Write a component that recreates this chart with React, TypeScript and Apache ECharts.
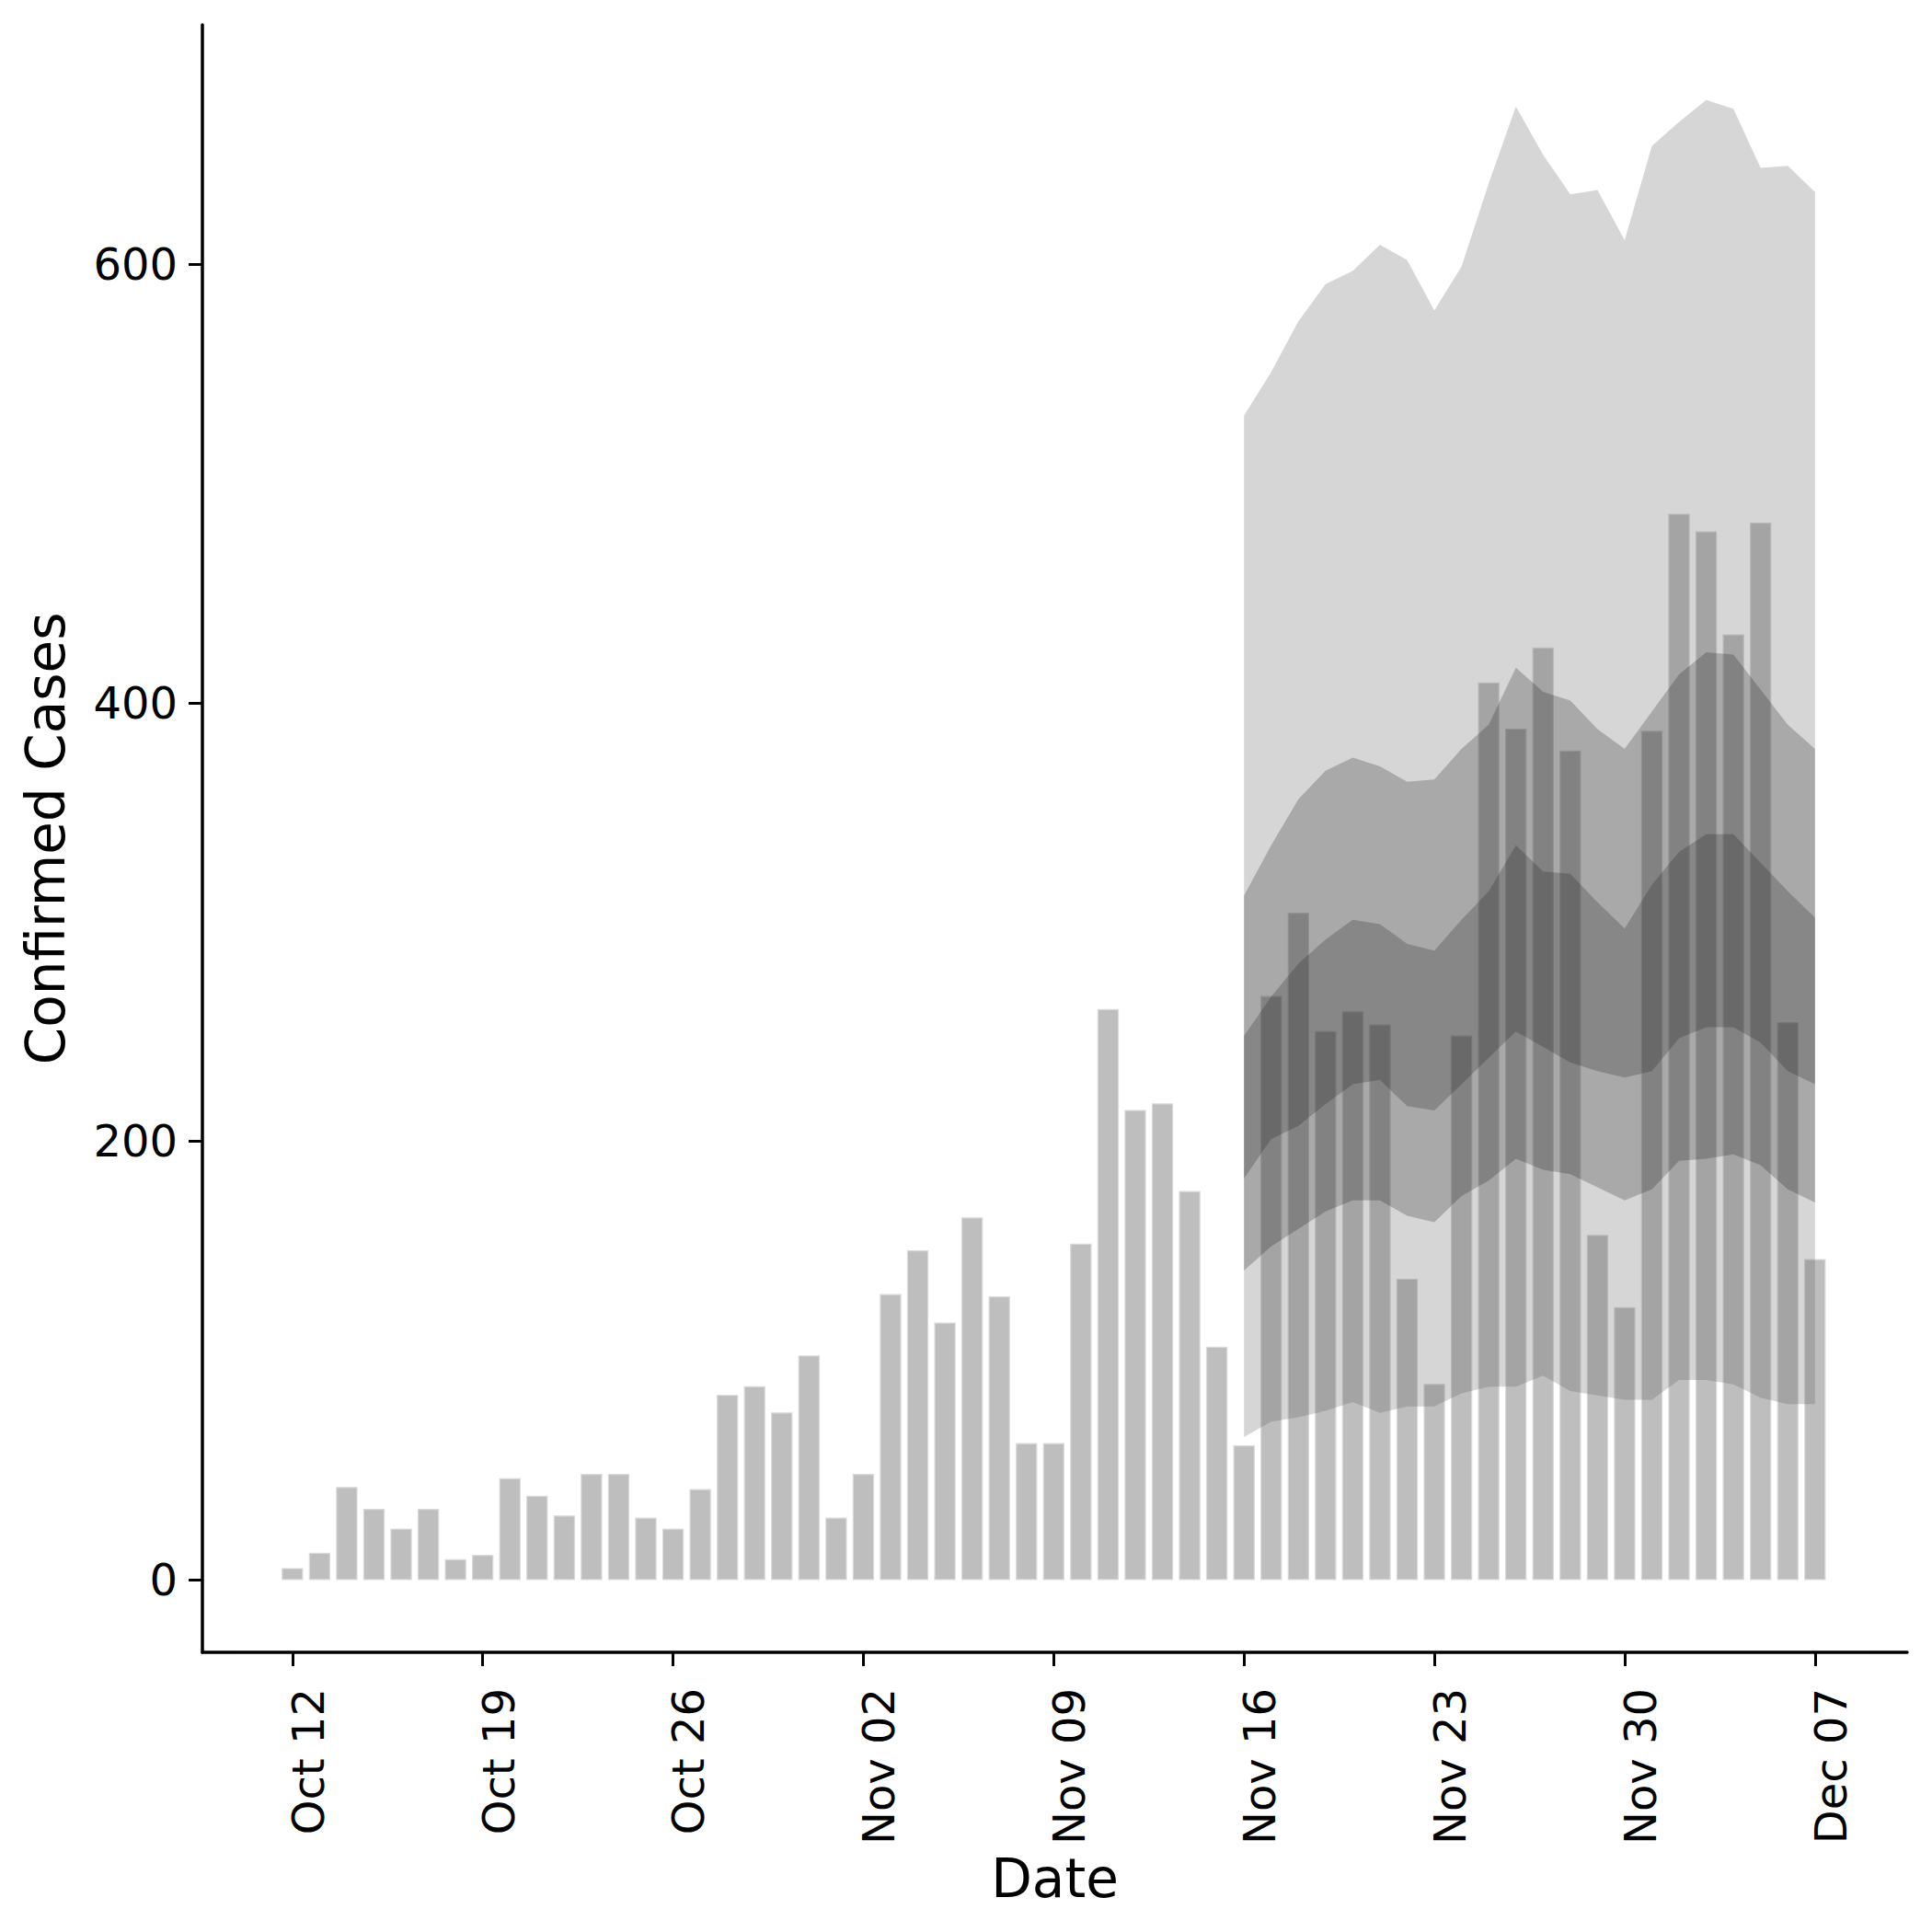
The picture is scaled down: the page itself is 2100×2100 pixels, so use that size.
import React, { useEffect, useRef } from "react";
import * as echarts from "echarts";

// Daily confirmed cases, Oct 12 – Dec 07
const dates = [
  "10-12", "10-13", "10-14", "10-15", "10-16", "10-17", "10-18", "10-19", "10-20", "10-21",
  "10-22", "10-23", "10-24", "10-25", "10-26", "10-27", "10-28", "10-29", "10-30", "10-31",
  "11-01", "11-02", "11-03", "11-04", "11-05", "11-06", "11-07", "11-08", "11-09", "11-10",
  "11-11", "11-12", "11-13", "11-14", "11-15", "11-16", "11-17", "11-18", "11-19", "11-20",
  "11-21", "11-22", "11-23", "11-24", "11-25", "11-26", "11-27", "11-28", "11-29", "11-30",
  "12-01", "12-02", "12-03", "12-04", "12-05", "12-06", "12-07",
];
const cases = [
  5, 12, 42, 32, 23, 32, 9, 11, 46, 38,
  29, 48, 48, 28, 23, 41, 84, 88, 76, 102,
  28, 48, 130, 150, 117, 165, 129, 62, 62, 153,
  260, 214, 217, 177, 106, 61, 266, 304, 250, 259,
  253, 137, 89, 248, 409, 388, 425, 378, 157, 124,
  387, 486, 478, 431, 482, 254, 146,
];

// Estimate bands, Nov 16 – Dec 07
const bandDates = [
  "11-16", "11-17", "11-18", "11-19", "11-20", "11-21", "11-22", "11-23", "11-24", "11-25", "11-26",
  "11-27", "11-28", "11-29", "11-30", "12-01", "12-02", "12-03", "12-04", "12-05", "12-06", "12-07",
];
const outerUpper = [531, 551, 574, 591, 597, 609, 602, 579, 599, 637, 672, 650, 632, 634, 611, 654, 665, 675, 671, 644, 645, 633];
const outerLower = [65, 72, 74, 77, 81, 76, 79, 79, 85, 88, 88, 93, 86, 84, 82, 82, 91, 91, 89, 83, 80, 80];
const midUpper = [312, 335, 356, 369, 375, 371, 364, 365, 379, 390, 416, 405, 401, 388, 379, 396, 413, 423, 422, 406, 390, 379];
const midLower = [141, 152, 160, 168, 173, 173, 166, 163, 175, 182, 192, 187, 185, 179, 173, 178, 191, 192, 194, 189, 178, 172];
const innerUpper = [248, 266, 281, 292, 301, 299, 290, 287, 301, 314, 335, 323, 322, 309, 297, 317, 332, 340, 340, 327, 314, 302];
const innerLower = [183, 201, 207, 217, 226, 228, 216, 214, 226, 238, 250, 243, 236, 232, 229, 232, 247, 252, 252, 245, 232, 226];

// Axis ticks
const xTickDates = ["10-12", "10-19", "10-26", "11-02", "11-09", "11-16", "11-23", "11-30", "12-07"];
const xTickLabels = ["Oct 12", "Oct 19", "Oct 26", "Nov 02", "Nov 09", "Nov 16", "Nov 23", "Nov 30", "Dec 07"];
const yTicks = [0, 200, 400, 600];

const YEAR = 2020;
const START = Date.UTC(YEAR, 9, 12);
function dayIndex(md: string): number {
  const [m, d] = md.split("-").map(Number);
  return Math.round((Date.UTC(YEAR, m - 1, d) - START) / 86400000);
}

const FONT = "DejaVu Sans";
// rotated date labels sit slightly to the right of their ticks (in days)
const LABEL_SHIFT = 0.57;

export default function App() {
  const ref = useRef<HTMLDivElement>(null);
  useEffect(() => {
    if (!ref.current) return;
    const chart = echarts.init(ref.current, undefined, { renderer: "svg" });

    const barData = dates.map((d, i) => [dayIndex(d), cases[i]]);
    const bandDays = bandDates.map(dayIndex);
    const tickDays = xTickDates.map(dayIndex);
    const labelMap: Record<number, string> = {};
    tickDays.forEach((d, i) => (labelMap[d] = xTickLabels[i]));

    const BAR_HALF = 0.375;

    const bandSeries = (upper: number[], lower: number[], fill: string, z: number) => ({
      type: "custom",
      silent: true,
      z,
      data: bandDays.map((d, i) => [d, lower[i], upper[i]]),
      encode: { x: 0, y: [1, 2] },
      renderItem: (params: any, api: any) => {
        if (params.dataIndex !== 0) return null;
        const pts: number[][] = [];
        for (let i = 0; i < bandDays.length; i++) pts.push(api.coord([bandDays[i], upper[i]]));
        for (let i = bandDays.length - 1; i >= 0; i--) pts.push(api.coord([bandDays[i], lower[i]]));
        return { type: "polygon", shape: { points: pts }, style: { fill } };
      },
    });

    chart.setOption({
      animation: false,
      backgroundColor: "#ffffff",
      grid: { left: 220, right: 27, top: 27, bottom: 304, containLabel: false, outerBoundsMode: "none" },
      xAxis: {
        type: "value",
        min: -3.31,
        max: 59.39,
        name: "Date",
        nameLocation: "middle",
        nameGap: 211,
        nameTextStyle: { fontSize: 58, color: "#000", fontFamily: FONT },
        axisLine: { show: true, onZero: false, lineStyle: { color: "#000", width: 3.5 } },
        axisTick: { show: true, length: 15, customValues: tickDays, lineStyle: { color: "#000", width: 3 } },
        axisLabel: {
          show: true,
          customValues: tickDays.map((d) => d + LABEL_SHIFT),
          rotate: 90,
          margin: 39,
          fontSize: 48,
          color: "#000",
          fontFamily: FONT,
          formatter: (v: number) => labelMap[Math.round(v - LABEL_SHIFT)] ?? "",
        },
        splitLine: { show: false },
      },
      yAxis: {
        type: "value",
        min: -33.2,
        max: 709.3,
        name: "Confirmed Cases",
        nameLocation: "middle",
        nameGap: 141,
        nameTextStyle: { fontSize: 58, color: "#000", fontFamily: FONT },
        axisLine: { show: true, onZero: false, lineStyle: { color: "#000", width: 3.5 } },
        axisTick: { show: true, length: 15, customValues: yTicks, lineStyle: { color: "#000", width: 3 } },
        axisLabel: {
          show: true,
          customValues: yTicks,
          margin: 27,
          fontSize: 48,
          color: "#000",
          fontFamily: FONT,
        },
        splitLine: { show: false },
      },
      series: [
        {
          type: "custom",
          silent: true,
          z: 1,
          data: barData,
          encode: { x: 0, y: 1 },
          renderItem: (params: any, api: any) => {
            const x = api.value(0);
            const y = api.value(1);
            const p0 = api.coord([x - BAR_HALF, y]);
            const p1 = api.coord([x + BAR_HALF, 0]);
            return {
              type: "rect",
              shape: { x: p0[0], y: p0[1], width: p1[0] - p0[0], height: p1[1] - p0[1] },
              style: { fill: "#bebebe", stroke: "#dadada", lineWidth: 1.2 },
            };
          },
        },
        bandSeries(outerUpper, outerLower, "rgba(77,77,77,0.23)", 2),
        bandSeries(midUpper, midLower, "rgba(26,26,26,0.24)", 3),
        bandSeries(innerUpper, innerLower, "rgba(26,26,26,0.237)", 4),
      ],
    });
    return () => chart.dispose();
  }, []);
  return (
    <div
      ref={ref}
      style={{ position: "absolute", left: 0, top: 0, width: 2100, height: 2100, background: "#fff" }}
    />
  );
}
